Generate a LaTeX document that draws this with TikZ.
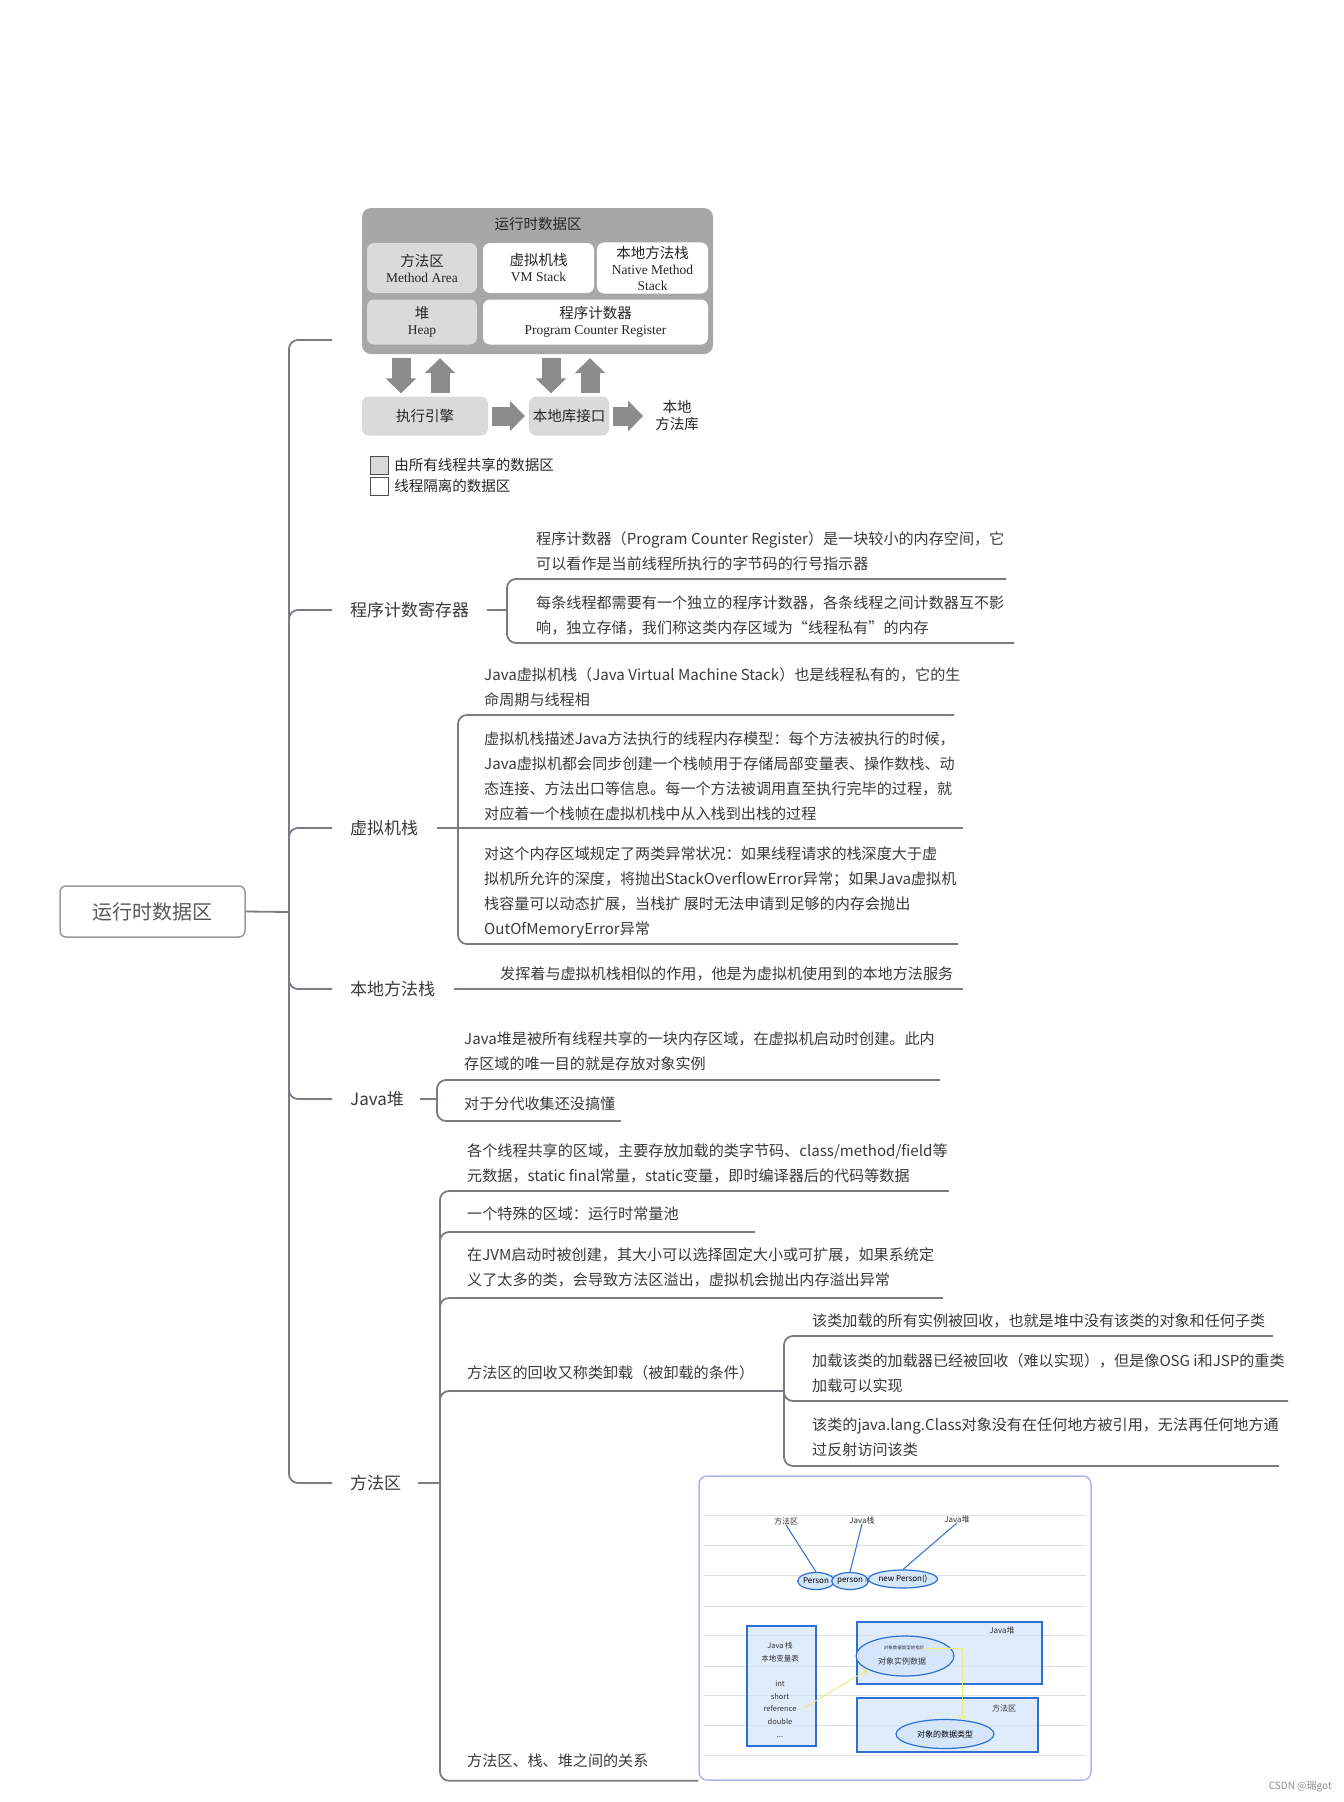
\documentclass[tikz,border=0pt]{standalone}
\usepackage{fontspec}
\setmainfont{Noto Sans CJK SC}
\newfontfamily\enserif{Liberation Serif}
\usetikzlibrary{positioning,calc,arrows.meta,shapes.geometric}
\newcommand{\en}[1]{{\enserif\fontsize{13.5}{16}\selectfont #1}}

\definecolor{mapline}{HTML}{7B7B83}
\definecolor{maptext}{HTML}{3A3A3A}
\definecolor{rdagray}{HTML}{A7A7A7}
\definecolor{rdalight}{HTML}{DADADA}
\definecolor{fatgray}{HTML}{8C8C8C}
\definecolor{framelav}{HTML}{B3B3EC}
\definecolor{relblue}{HTML}{2D6FD2}
\definecolor{relfill}{HTML}{D5E6FB}
\definecolor{rulegray}{HTML}{DEDEDE}
\definecolor{reflink}{HTML}{EDED7E}

\begin{document}
\begin{tikzpicture}[x=1pt,y=-1pt,
  map/.style={draw=mapline,line width=1.8pt,rounded corners=9pt},
  topic/.style={inner sep=0pt,anchor=west,text=maptext,font=\fontsize{17}{20}\selectfont},
  note/.style={inner sep=0pt,anchor=north west,align=left,text=maptext,font=\fontsize{15.1}{25}\selectfont},
  area/.style={rounded corners=7pt,minimum height=50,align=center,text=black!85,font=\fontsize{14.5}{16}\selectfont},
  shared/.style={area,fill=rdalight},
  private/.style={area,fill=white},
  fatarrow/.style={draw=fatgray,line width=19pt,-{Triangle[length=15pt,width=30pt]}},
  relsmall/.style={inner sep=0pt,font=\fontsize{8}{10}\selectfont,text=black!80},
  relell/.style={ellipse,draw=relblue,line width=1.2pt,fill=relfill,inner sep=0pt,font=\fontsize{8}{10}\selectfont},
  relbox/.style={draw=relblue,line width=1.2pt,fill=relfill,fill opacity=0.75,text opacity=1},
  rellink/.style={draw=reflink,line width=1pt,-{Straight Barb[length=4pt]}}]
\useasboundingbox (0,0) rectangle (1344,1802);

% ---- runtime data area sketch
\node[fill=rdagray,rounded corners=9pt,minimum width=351,minimum height=146] (rda) at (537.5,281) {};
\node[font=\fontsize{14.5}{16}\selectfont,text=black!85] (rdatitle) at (538,224) {运行时数据区};
\node[shared,minimum width=110] (marea) at (422,268) {方法区\\\en{Method Area}};
\node[private,minimum width=111] (vmst) at (538.5,268) {虚拟机栈\\\en{VM Stack}};
\node[private,minimum width=111] (nmst) at (652.5,268) {本地方法栈\\\en{Native Method}\\\en{Stack}};
\node[shared,minimum width=110,minimum height=45] (heap) at (422,322) {堆\\\en{Heap}};
\node[private,minimum width=225,minimum height=45] (pcr) at (595.5,322) {程序计数器\\\en{Program Counter Register}};
\node[shared,minimum width=126,minimum height=39] (exec) at (425,416) {执行引擎};
\node[shared,minimum width=80,minimum height=39] (nif) at (569,416) {本地库接口};
\node[align=center,inner sep=0pt,text=black!85,font=\fontsize{14.5}{17}\selectfont] (nlib) at (677,416) {本地\\方法库};

\foreach \x in {401,551}
  \draw[fatarrow,shorten <=4pt,shorten >=3pt] (\x,0 |- rda.south) -- (\x,0 |- exec.north);
\foreach \x in {440,590}
  \draw[fatarrow,shorten <=3pt,shorten >=4pt] (\x,0 |- exec.north) -- (\x,0 |- rda.south);
\draw[fatarrow,shorten <=4pt,shorten >=4pt] (exec.east) -- (nif.west);
\draw[fatarrow,shorten <=4pt,shorten >=12pt] (nif.east) -- (nlib.west);

% legend
\node[draw=black!70,fill=rdalight,minimum size=18,inner sep=0pt] (lgshared) at (379,465) {};
\node[draw=black!70,fill=white,minimum size=18,inner sep=0pt] (lgprivate) at (379,486) {};
\node[right=6pt of lgshared,inner sep=0pt,text=black!85,font=\fontsize{14.5}{16}\selectfont] (lgtxt1) {由所有线程共享的数据区};
\node[right=6pt of lgprivate,inner sep=0pt,text=black!85,font=\fontsize{14.5}{16}\selectfont] (lgtxt2) {线程隔离的数据区};

% ---- mind map
\node[draw=black!40,line width=1.5pt,rounded corners=6pt,minimum width=185,minimum height=51,
      text=black!65,font=\fontsize{20}{24}\selectfont] (root) at (152.5,911.5) {运行时数据区};
\coordinate (trunk) at (289,912);
\draw[map] (332,340) -| (trunk) |- (332,1483);
\draw[map] (root.east) -- (trunk);
\foreach \y/\d in {610/10,828/10,989/-10,1099/-10}
  \draw[map] (289,\y+\d) |- (332,\y);

\node[topic] (tpc) at (350,610) {程序计数寄存器};
\node[topic] (tvm) at (350,828) {虚拟机栈};
\node[topic] (tns) at (350,989) {本地方法栈};
\node[topic] (tjh) at (350,1099) {Java堆};
\node[topic] (tma) at (350,1483) {方法区};

% program counter
\node[note] (pc1) at (536,531) {程序计数器（Program Counter Register）是一块较小的内存空间，它\\可以看作是当前线程所执行的字节码的行号指示器};
\node[note] (pc2) at (536,595) {每条线程都需要有一个独立的程序计数器，各条线程之间计数器互不影\\响，独立存储，我们称这类内存区域为“线程私有”的内存};
\coordinate (pcb) at (507,610);
\draw[map] (1006,579) -| (pcb) |- (1014,643);
\draw[map] ($(tpc.east)+(18,0)$) -- (pcb);

% vm stack
\node[note] (vm1) at (484,667) {Java虚拟机栈（Java Virtual Machine Stack）也是线程私有的，它的生\\命周期与线程相};
\node[note] (vm2) at (484,732) {虚拟机栈描述Java方法执行的线程内存模型：每个方法被执行的时候，\\Java虚拟机都会同步创建一个栈帧用于存储局部变量表、操作数栈、动\\态连接、方法出口等信息。每一个方法被调用直至执行完毕的过程，就\\对应着一个栈帧在虚拟机栈中从入栈到出栈的过程};
\node[note] (vm3) at (484,846) {对这个内存区域规定了两类异常状况：如果线程请求的栈深度大于虚\\拟机所允许的深度，将抛出StackOverflowError异常；如果Java虚拟机\\栈容量可以动态扩展，当栈扩 展时无法申请到足够的内存会抛出\\OutOfMemoryError异常};
\coordinate (vmb) at (458,828);
\draw[map] (954,715) -| (vmb) |- (958,944);
\draw[map] ($(tvm.east)+(19,0)$) -- (963,828);

% native method stack
\node[note] (ns1) at (500,967) {发挥着与虚拟机栈相似的作用，他是为虚拟机使用到的本地方法服务};
\draw[map] ($(tns.east)+(19,0)$) -- (963,989);

% java heap
\node[note] (jh1) at (464,1031) {Java堆是被所有线程共享的一块内存区域，在虚拟机启动时创建。此内\\存区域的唯一目的就是存放对象实例};
\node[note] (jh2) at (464,1097) {对于分代收集还没搞懂};
\coordinate (jhb) at (437,1099);
\draw[map] (940,1080) -| (jhb) |- (621,1121);
\draw[map] ($(tjh.east)+(16,0)$) -- (jhb);

% relation picture (drawn before the method area lines end on it)
\node[draw=framelav,line width=1.5pt,fill=white,rounded corners=8pt,minimum width=392,minimum height=304] (relframe) at (895,1628) {};
\foreach \y in {1515,1545,1575,1606,1635,1666,1695,1725,1755}
  \draw[rulegray,line width=0.8pt] (704,\y) -- (1086,\y);
\node[relsmall] (lma) at (786,1521) {方法区};
\node[relsmall] (lst) at (862,1520) {Java栈};
\node[relsmall] (lhp) at (957,1519) {Java堆};
\node[relell,minimum width=36,minimum height=17] (epers) at (816,1581) {Person};
\node[relell,minimum width=32,minimum height=17] (evar) at (850,1581) {person};
\node[relsmall] (eq) at (867,1581) {=};
\node[relell,minimum width=63,minimum height=18] (enew) at (903,1579) {new Person()};
\draw[relblue,line width=1pt] (lma.south) -- (epers.north);
\draw[relblue,line width=1pt] (lst.south) -- (evar.north);
\draw[relblue,line width=1pt] (lhp.south) -- (enew.north);

\node[relbox,minimum width=69,minimum height=120] (jstack) at (781.5,1686) {};
\node[relsmall,align=center,font=\fontsize{7.5}{12.8}\selectfont] (jvars) at (780,1690) {Java 栈\\本地变量表\\[12pt]int\\short\\reference\\double\\...};
\node[relbox,minimum width=185,minimum height=62] (hbox) at (949.5,1653) {};
\node[relsmall] (hlab) at (1002,1630) {Java堆};
\node[relell,minimum width=98,minimum height=40] (eobj) at (905,1656) {};
\node[relsmall,font=\fontsize{4.5}{5}\selectfont] (ptr) at (904,1648) {对象数据类型的指针};
\node[relsmall] (odata) at (902,1661) {对象实例数据};
\node[relbox,minimum width=181,minimum height=54] (mbox) at (947.5,1725) {};
\node[relsmall] (mlab) at (1004,1708) {方法区};
\node[relell,minimum width=98,minimum height=29] (etype) at (945,1734) {对象的数据类型};
\coordinate (refpt) at (804,1708);
\coordinate (typetop) at (962,1720);
\draw[rellink] (refpt) -- (eobj.200);
\draw[rellink] (ptr.east) -| (typetop);

% method area
\node[note] (ma1) at (467,1143) {各个线程共享的区域，主要存放加载的类字节码、class/method/field等\\元数据，static final常量，static变量，即时编译器后的代码等数据};
\node[note] (ma2) at (467,1207) {一个特殊的区域：运行时常量池};
\node[note] (ma3) at (467,1247) {在JVM启动时被创建，其大小可以选择固定大小或可扩展，如果系统定\\义了太多的类，会导致方法区溢出，虚拟机会抛出内存溢出异常};
\node[note] (ma4) at (467,1365) {方法区的回收又称类卸载（被卸载的条件）};
\node[note] (ma5) at (467,1754) {方法区、栈、堆之间的关系};
\coordinate (mab) at (440,1483);
\draw[map] (949,1191) -| (mab) |- (relframe.south west);
\foreach \y/\e in {1232/755,1298/943,1391/784}
  \draw[map] (440,\y+10) |- (\e,\y);
\draw[map] ($(tma.east)+(17,0)$) -- (mab);

% class unloading conditions
\node[note] (rc1) at (812,1313) {该类加载的所有实例被回收，也就是堆中没有该类的对象和任何子类};
\node[note] (rc2) at (812,1353) {加载该类的加载器已经被回收（难以实现），但是像OSG i和JSP的重类\\加载可以实现};
\node[note] (rc3) at (812,1418) {该类的java.lang.Class对象没有在任何地方被引用，无法再任何地方通\\过反射访问该类};
\coordinate (rcb) at (784,1391);
\draw[map] (1273,1336) -| (rcb) |- (1279,1466);
\draw[map] (rcb) |- (1288,1401);

\node[anchor=east,inner sep=0pt,text=black!45,font=\fontsize{10}{12}\selectfont] (mark) at (1332,1787) {CSDN @瑞got};
\end{tikzpicture}
\end{document}
